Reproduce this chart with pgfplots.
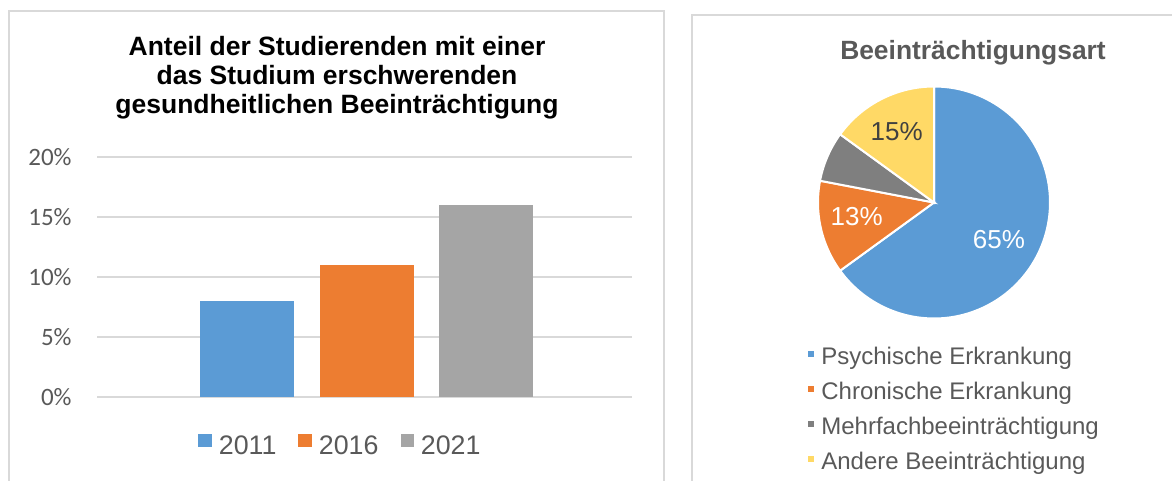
\documentclass[border=0pt]{standalone}
\usepackage{fontspec}
\setmainfont{Liberation Sans}
\newfontfamily\calibri{Carlito}
\usepackage{pgfplots}
\pgfplotsset{compat=1.18}
\usepgfplotslibrary{polar}
\definecolor{cblue}{HTML}{5B9BD5}
\definecolor{corange}{HTML}{ED7D31}
\definecolor{cgray}{HTML}{A5A5A5}
\definecolor{cdgray}{HTML}{7F7F7F}
\definecolor{cyellow}{HTML}{FFD966}
\definecolor{ctxt}{HTML}{595959}
\definecolor{cgrid}{HTML}{D9D9D9}
\definecolor{clab}{HTML}{404040}
% pie shares in percent
\def\pA{65}\def\pB{13}\def\pC{7}\def\pD{15}
\pgfmathsetmacro{\aA}{450-3.6*\pA}
\pgfmathsetmacro{\aB}{\aA-3.6*\pB}
\pgfmathsetmacro{\aC}{\aB-3.6*\pC}
\pgfmathsetmacro{\aD}{\aC-3.6*\pD}
\begin{document}
\begin{tikzpicture}
\useasboundingbox (0pt,0pt) rectangle (586pt,240.5pt);
% panel frames
\draw[cgrid, line width=1pt] (4.5pt,-5pt) -- (4.5pt,235.2pt) -- (332.1pt,235.2pt) -- (332.1pt,-5pt);
\draw[cgrid, line width=1pt] (595pt,233.2pt) -- (345.9pt,233.2pt) -- (345.9pt,-5pt);
% titles
\node[anchor=base, font=\bfseries\fontsize{13.25}{13.25}\selectfont] at (168.5pt,212.5pt) {Anteil der Studierenden mit einer};
\node[anchor=base, font=\bfseries\fontsize{13.25}{13.25}\selectfont] at (168.5pt,198pt) {das Studium erschwerenden};
\node[anchor=base, font=\bfseries\fontsize{13.25}{13.25}\selectfont] at (168.5pt,183.5pt) {gesundheitlichen Beeinträchtigung};
\node[anchor=base, text=ctxt, font=\bfseries\fontsize{13.2}{13.2}\selectfont] at (486.5pt,210.5pt) {Beeinträchtigungsart};

\begin{axis}[
  at={(48.5pt,41.85pt)}, anchor=south west,
  scale only axis, width=267.5pt, height=120.3pt,
  ymin=0, ymax=20, xmin=-1.26, xmax=3.22,
  ytick={0,5,10,15,20}, xtick=\empty,
  /pgf/number format/assume math mode=true,
  yticklabel={\pgfmathprintnumber{\tick}\%},
  yticklabel style={font=\calibri\fontsize{12.5}{12.5}\selectfont, text=ctxt, inner sep=0pt, xshift=-12.5pt},
  ymajorgrids, grid style={cgrid, line width=1pt},
  axis line style={draw=none}, major tick style={draw=none},
  ybar, bar width=47pt,
  legend columns=-1,
  legend image code/.code={\fill[#1] (0pt,-0.2pt) rectangle (6.6pt,6.4pt); \path (8.2pt,0pt);},
  legend style={at={(0.457,-0.205)}, anchor=center, draw=none, fill=none,
    font=\fontsize{13.4}{13.4}\selectfont, text=ctxt,
    nodes={inner sep=2pt},
    /tikz/every even column/.append style={column sep=9pt}},
]
\addplot[fill=cblue, draw=none, bar shift=0pt] coordinates {(0,8)};
\addlegendentry{2011}
\addplot[fill=corange, draw=none, bar shift=0pt] coordinates {(1,11)};
\addlegendentry{2016}
\addplot[fill=cgray, draw=none, bar shift=0pt] coordinates {(2,16)};
\addlegendentry{2021}
\end{axis}

\begin{polaraxis}[
  at={(467pt,139.25pt)}, anchor=origin,
  scale only axis, width=116pt, height=116pt,
  ymin=0, ymax=1, hide axis, clip=false,
  legend image code/.code={\fill[#1] (0pt,0.2pt) rectangle (4pt,4.2pt); \path (5.5pt,0pt);},
  legend cell align=left,
  legend style={at={(-0.052,-0.111)}, anchor=north west, draw=none, fill=none,
    font=\fontsize{12}{12}\selectfont, text=ctxt, inner sep=0pt, row sep=3.5pt,
    nodes={inner sep=1pt, text height=9pt, text depth=3pt}},
]
\addplot[fill=cblue, draw=white, line width=1pt, domain=\aA:450, samples=120] {1} -- (axis cs:0,0) -- cycle;
\addlegendentry{Psychische Erkrankung}
\addplot[fill=corange, draw=white, line width=1pt, domain=\aB:\aA, samples=30] {1} -- (axis cs:0,0) -- cycle;
\addlegendentry{Chronische Erkrankung}
\addplot[fill=cdgray, draw=white, line width=1pt, domain=\aC:\aB, samples=20] {1} -- (axis cs:0,0) -- cycle;
\addlegendentry{Mehrfachbeeinträchtigung}
\addplot[fill=cyellow, draw=white, line width=1pt, domain=\aD:\aC, samples=30] {1} -- (axis cs:0,0) -- cycle;
\addlegendentry{Andere Beeinträchtigung}
\node[text=white, font=\fontsize{13}{13}\selectfont] at (axis cs:330,0.647) {65\%};
\node[text=white, font=\fontsize{13}{13}\selectfont] at (axis cs:190.4,0.678) {13\%};
\node[text=clab, font=\fontsize{13}{13}\selectfont] at (axis cs:117.9,0.688) {15\%};
\end{polaraxis}
\end{tikzpicture}
\end{document}
